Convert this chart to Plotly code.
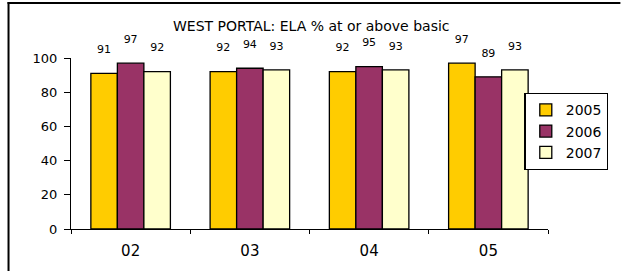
import plotly.graph_objects as go

categories = ["02", "03", "04", "05"]
series_names = ["2005", "2006", "2007"]
values_2005 = [91, 92, 92, 97]
values_2006 = [97, 94, 95, 89]
values_2007 = [92, 93, 93, 93]
colors = ["#FFCC00", "#993366", "#FFFFCC"]
y_ticks = [0, 20, 40, 60, 80, 100]

W, H = 621, 271
L, R, T, B = 71, 69, 58, 42
pw, ph = W - L - R, H - T - B

def px_x(x):
    return (x - L) / pw

def px_y(y):
    return (H - B - y) / ph

FONT = "DejaVu Sans, Verdana, sans-serif"

fig = go.Figure()
for name, vals, col in zip(series_names, [values_2005, values_2006, values_2007], colors):
    fig.add_trace(go.Bar(
        x=categories, y=vals, name=name,
        marker=dict(color=col, line=dict(color="black", width=1.3)),
        text=[f"{v}<br> " for v in vals], textposition="outside",
        textfont=dict(family=FONT, size=11, color="black"),
        cliponaxis=False,
    ))

fig.update_layout(
    width=W, height=H,
    margin=dict(l=L, r=R, t=T, b=B, pad=0),
    paper_bgcolor="white", plot_bgcolor="white",
    barmode="group", bargap=0.333, bargroupgap=0,
    font=dict(family=FONT, size=12, color="black"),
    showlegend=True,
    legend=dict(
        x=px_x(613), y=px_y(93), xanchor="right", yanchor="top",
        bordercolor="black", borderwidth=1.3, bgcolor="white",
        font=dict(family=FONT, size=14, color="black"),
        itemwidth=30, tracegroupgap=0,
    ),
    xaxis=dict(
        type="category", showline=True, linecolor="black", linewidth=1.3,
        ticks="outside", tickson="boundaries", ticklen=4, tickcolor="black",
        showgrid=False, zeroline=False, ticklabelstandoff=8,
        tickfont=dict(family=FONT, size=15),
    ),
    yaxis=dict(
        range=[0, 100], tickvals=y_ticks, showline=True, linecolor="black",
        linewidth=1.3, ticks="outside", ticklen=6, tickcolor="black",
        showgrid=False, zeroline=False, ticklabelstandoff=4,
        tickfont=dict(family=FONT, size=13),
    ),
    annotations=[dict(
        text="WEST PORTAL: ELA % at or above basic",
        xref="paper", yref="paper", x=px_x(314), y=px_y(26),
        xanchor="center", yanchor="middle", showarrow=False,
        font=dict(family=FONT, size=14, color="black"),
    )],
    shapes=[
        dict(type="line", xref="paper", yref="paper",
             x0=px_x(8), x1=px_x(8), y0=px_y(2), y1=px_y(275),
             line=dict(color="black", width=2)),
        dict(type="line", xref="paper", yref="paper",
             x0=px_x(7), x1=px_x(625), y0=px_y(3), y1=px_y(3),
             line=dict(color="black", width=2)),
    ],
)

fig.write_html("out.html", config={"displayModeBar": False},
               post_script="document.body.style.margin='0px';")
